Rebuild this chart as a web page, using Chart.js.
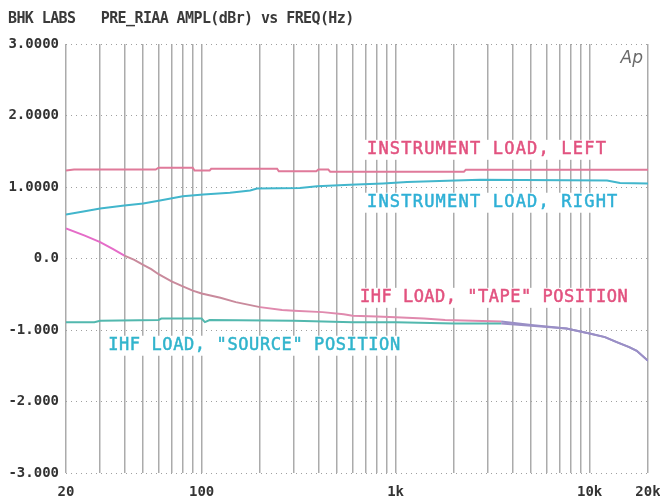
<!DOCTYPE html>
<html>
<head>
<meta charset="utf-8">
<script src="https://cdn.jsdelivr.net/npm/chart.js@4/dist/chart.umd.min.js"></script>
<style>
html,body{margin:0;padding:0;background:#fff;}
canvas{display:block;}
</style>
</head>
<body>
<canvas id="c" width="660" height="503"></canvas>
<script>
// ---- data ----
const FREQ_GRID = [20,30,40,50,60,70,80,90,100,200,300,400,500,600,700,800,900,1000,2000,3000,4000,5000,6000,7000,8000,9000,10000,20000];
const X_TICK_LABELS = {20:'20',100:'100',1000:'1k',10000:'10k',20000:'20k'};
const Y_TICK_VALUES = [-3,-2,-1,0,1,2,3];
const Y_TICK_LABELS = ['-3.000','-2.000','-1.000','0.0','1.0000','2.0000','3.0000'];

const leftFreq = [20,22,58,60,90,92,110,112,245,250,390,400,450,460,2250,2300,20000];
const leftDb   = [1.23,1.245,1.245,1.27,1.27,1.23,1.23,1.255,1.255,1.22,1.22,1.245,1.245,1.215,1.215,1.24,1.24];

const rightFreq = [20,25,30,40,50,61,80,102,140,178,193,321,394,582,861,1146,2720,12300,14350,20000];
const rightDb   = [0.615,0.66,0.70,0.74,0.77,0.81,0.87,0.895,0.92,0.95,0.98,0.985,1.01,1.03,1.05,1.07,1.10,1.09,1.055,1.05];

const tapeFreq = [20,25,30,35,40,45,50,55,60,70,80,90,100,125,150,200,260,300,420,540,600,800,1000,1400,1800,2500,3500,5000,7600,10000,12000,13800,16000,17500,20000];
const tapeDb   = [0.42,0.32,0.23,0.13,0.04,-0.02,-0.09,-0.15,-0.22,-0.32,-0.39,-0.45,-0.49,-0.55,-0.61,-0.68,-0.72,-0.73,-0.75,-0.78,-0.80,-0.81,-0.82,-0.84,-0.86,-0.87,-0.88,-0.93,-0.98,-1.05,-1.10,-1.17,-1.24,-1.29,-1.43];

const sourceFreq = [20,28,30,60,62,100,104,110,300,600,1000,2000,3500,5000,7600,10000,12000,13800,16000,17500,20000];
const sourceDb   = [-0.89,-0.89,-0.87,-0.86,-0.84,-0.84,-0.89,-0.86,-0.87,-0.89,-0.89,-0.91,-0.91,-0.94,-0.98,-1.05,-1.10,-1.17,-1.24,-1.29,-1.43];

const TITLE = 'BHK LABS   PRE_RIAA AMPL(dBr) vs FREQ(Hz)';

// ---- annotation text (anchored in data space) ----
const ANNOTATIONS = [
  {text:'INSTRUMENT LOAD, LEFT',  f:712, db:1.52, color:'#e2527f', spacing:1.2},
  {text:'INSTRUMENT LOAD, RIGHT', f:712, db:0.78, color:'#2fb0d6', spacing:1.2},
  {text:'IHF LOAD, "TAPE" POSITION', f:655, db:-0.55, color:'#e2527f', spacing:0.5},
  {text:'IHF LOAD, "SOURCE" POSITION', f:33, db:-1.22, color:'#31b4cc', spacing:0.6}
];

function pts(fs, vs){ return fs.map((f,i)=>({x:f, y:vs[i]})); }
const HF = '#9a8fc6';

const overlay = {
  id:'overlay',
  afterDraw(chart){
    const ctx = chart.ctx, xs = chart.scales.x, ys = chart.scales.y;
    ctx.save();
    // title
    ctx.font = 'bold 15px "DejaVu Sans Mono"';
    ctx.letterSpacing = '-0.6px';
    ctx.fillStyle = '#3a3a3a';
    ctx.textBaseline = 'middle';
    ctx.textAlign = 'left';
    ctx.fillText(TITLE, 8, 19);
    // Ap logo
    ctx.letterSpacing = '0px';
    ctx.font = 'italic 17px "DejaVu Sans"';
    ctx.fillStyle = '#6a6a6a';
    ctx.textAlign = 'right';
    ctx.fillText('Ap', xs.right - 5, 59);
    // series labels
    ctx.textAlign = 'left';
    ctx.font = '17px "DejaVu Sans Mono"';
    ANNOTATIONS.forEach(a=>{
      ctx.letterSpacing = a.spacing + 'px';
      const x = xs.getPixelForValue(a.f), y = ys.getPixelForValue(a.db);
      const w = ctx.measureText(a.text).width;
      ctx.fillStyle = '#fff';
      ctx.fillRect(x-3, y-10, w+6, 20);
      ctx.fillStyle = a.color;
      ctx.lineWidth = 0.5;
      ctx.strokeStyle = a.color;
      ctx.fillText(a.text, x, y);
      ctx.strokeText(a.text, x, y);
    });
    ctx.restore();
  }
};

new Chart(document.getElementById('c'), {
  type:'line',
  data:{
    datasets:[
      {data:pts(sourceFreq, sourceDb), borderColor:'#52b8ae', borderWidth:2,
       segment:{borderColor:c=> c.p0.parsed.x >= 3500 ? HF : '#52b8ae'}},
      {data:pts(tapeFreq, tapeDb), borderColor:'#dc80ac', borderWidth:2,
       segment:{borderColor:c=>{const f=c.p0.parsed.x; return f<40?'#e56cc8':(f<200?'#c98a9c':(f>=3500?HF:'#e08aae'));}}},
      {data:pts(rightFreq, rightDb), borderColor:'#42b6cc', borderWidth:2},
      {data:pts(leftFreq, leftDb), borderColor:'#e07a9a', borderWidth:2}
    ]
  },
  options:{
    responsive:false,
    animation:false,
    parsing:true,
    elements:{point:{radius:0}, line:{tension:0}},
    layout:{padding:{left:0, right:12, top:44, bottom:0}},
    plugins:{legend:{display:false}, tooltip:{enabled:false}, title:{display:false}},
    scales:{
      x:{
        type:'logarithmic', min:20, max:20000,
        afterBuildTicks(s){ s.ticks = FREQ_GRID.map(v=>({value:v})); },
        afterFit(s){ s.height = 30; s.paddingLeft = 0; s.paddingRight = 0; },
        grid:{color:'#ababab', lineWidth:1.5, drawTicks:false},
        border:{display:false},
        ticks:{autoSkip:false, maxRotation:0, minRotation:0, padding:11, color:'#333',
          font:{family:'DejaVu Sans Mono', size:14, weight:'bold'},
          callback:(v)=> X_TICK_LABELS[v] || ''}
      },
      y:{
        min:-3, max:3,
        afterBuildTicks(s){ s.ticks = Y_TICK_VALUES.map(v=>({value:v})); },
        afterFit(s){ s.width = 66; },
        grid:{color:'#a0a0a0', lineWidth:1, drawTicks:false},
        border:{display:false, dash:[1,4]},
        ticks:{padding:7, color:'#333',
          font:{family:'DejaVu Sans Mono', size:14, weight:'bold'},
          callback:(v)=> Y_TICK_LABELS[Y_TICK_VALUES.indexOf(v)]}
      }
    }
  },
  plugins:[overlay]
});
</script>
</body>
</html>
